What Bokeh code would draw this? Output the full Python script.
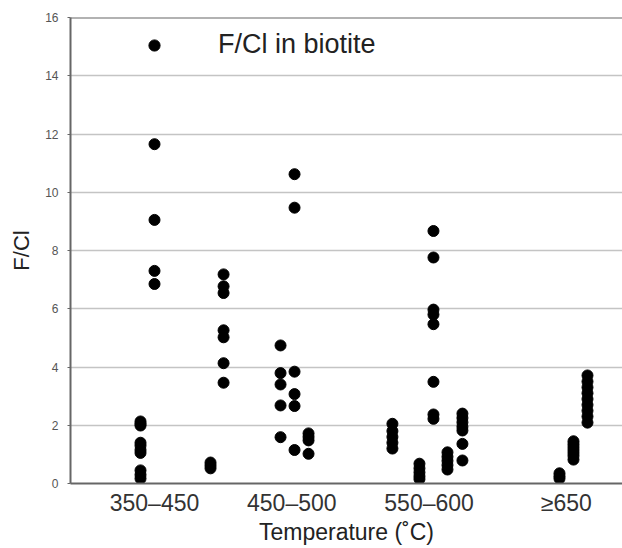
from bokeh.plotting import figure
from bokeh.models import (Range1d, FixedTicker, Span, Legend, LegendItem,
                          ColumnDataSource)
from bokeh.embed import file_html
from bokeh.resources import INLINE

# ---- data ----
categories = ["350–450", "450–500", "550–600", "≥650"]
category_pos = [1, 2, 3, 4]
y_ticks = [0, 2, 4, 6, 8, 10, 12, 14, 16]

# each column of points: horizontal position (category units) and F/Cl values
x_a, v_a = 0.898, [2.13, 2.05, 1.99, 1.4, 1.3, 1.15, 1.05, 0.45, 0.3, 0.17]
x_b, v_b = 1.0, [11.65, 9.05, 7.3, 6.85]
x_c, v_c = 1.408, [0.72, 0.62, 0.52]
x_d, v_d = 1.503, [7.18, 6.77, 6.54, 5.26, 5.02, 4.13, 3.46]
x_e, v_e = 1.918, [4.74, 3.79, 3.4, 2.68, 1.59]
x_f, v_f = 2.02, [10.62, 9.47, 3.84, 3.07, 2.66, 1.15]
x_g, v_g = 2.122, [1.72, 1.6, 1.48, 1.02]
x_h, v_h = 2.733, [2.05, 1.8, 1.6, 1.4, 1.2]
x_i, v_i = 2.93, [0.68, 0.52, 0.38, 0.25, 0.15]
x_j, v_j = 3.032, [8.67, 7.76, 5.97, 5.8, 5.47, 3.49, 2.37, 2.22]
x_k, v_k = 3.134, [1.07, 0.92, 0.78, 0.63, 0.48]
x_l, v_l = 3.243, [2.4, 2.25, 2.1, 1.95, 1.82, 1.36, 0.79]
x_m, v_m = 3.95, [0.35, 0.25, 0.17]
x_n, v_n = 4.052, [1.45, 1.35, 1.25, 1.15, 1.05, 0.95, 0.82]
x_o, v_o = 4.154, [3.71, 3.5, 3.3, 3.1, 2.9, 2.7, 2.5, 2.3, 2.09]

columns = [(x_a, v_a), (x_b, v_b), (x_c, v_c), (x_d, v_d), (x_e, v_e),
           (x_f, v_f), (x_g, v_g), (x_h, v_h), (x_i, v_i), (x_j, v_j),
           (x_k, v_k), (x_l, v_l), (x_m, v_m), (x_n, v_n), (x_o, v_o)]
xs, ys = [], []
for cx, vals in columns:
    xs += [cx] * len(vals)
    ys += vals
src = ColumnDataSource(dict(x=xs, y=ys))

FONT = "Liberation Sans"

p = figure(width=622, height=548, output_backend="svg", toolbar_location=None,
           x_range=Range1d(0.388, 4.409), y_range=Range1d(0, 16),
           min_border_left=70, min_border_right=0, min_border_top=17,
           min_border_bottom=65)
p.outline_line_color = None
p.background_fill_color = "white"

# grid
p.xgrid.visible = False
p.ygrid.ticker = FixedTicker(ticks=y_ticks)
p.ygrid.grid_line_color = "#c4c4c4"
p.ygrid.grid_line_width = 1.5

# y axis
p.yaxis.ticker = FixedTicker(ticks=y_ticks)
p.yaxis.axis_label = "F/Cl"
p.yaxis.axis_label_text_font = FONT
p.yaxis.axis_label_text_font_size = "22px"
p.yaxis.axis_label_text_font_style = "normal"
p.yaxis.axis_label_text_color = "#222222"
p.yaxis.axis_label_standoff = 8
p.yaxis.major_label_text_font = FONT
p.yaxis.major_label_text_font_size = "12px"
p.yaxis.major_label_text_color = "#555555"
p.yaxis.major_label_standoff = 9
p.yaxis.major_tick_out = 3
p.yaxis.major_tick_in = 0
p.yaxis.minor_tick_out = 0
p.yaxis.minor_tick_in = 0
p.yaxis.axis_line_color = "#666666"
p.yaxis.axis_line_width = 2
p.yaxis.major_tick_line_color = "#666666"

# x axis
p.xaxis.ticker = FixedTicker(ticks=category_pos)
p.xaxis.major_label_overrides = {pos: lab for pos, lab in zip(category_pos, categories)}
p.xaxis.axis_label = "Temperature (˚C)"
p.xaxis.axis_label_text_font = FONT
p.xaxis.axis_label_text_font_size = "23px"
p.xaxis.axis_label_text_font_style = "normal"
p.xaxis.axis_label_text_color = "#222222"
p.xaxis.axis_label_standoff = 0
p.xaxis.major_label_text_font = FONT
p.xaxis.major_label_text_font_size = "23px"
p.xaxis.major_label_text_color = "#333333"
p.xaxis.major_label_standoff = 6
p.xaxis.major_tick_out = 0
p.xaxis.major_tick_in = 0
p.xaxis.minor_tick_out = 0
p.xaxis.minor_tick_in = 0
p.xaxis.axis_line_color = "#666666"
p.xaxis.axis_line_width = 2

# top frame line
p.add_layout(Span(location=16, dimension="width", line_color="#666666", line_width=2))

r = p.scatter("x", "y", source=src, size=11, marker="circle",
              fill_color="black", line_color="black")

legend = Legend(items=[LegendItem(label="F/Cl in biotite", renderers=[r])],
                location=(70, 423), padding=0, margin=0, spacing=0,
                glyph_width=28, glyph_height=28, label_standoff=50,
                label_text_font=FONT, label_text_font_size="27px",
                label_text_color="#222222", background_fill_alpha=0,
                border_line_color=None)
p.add_layout(legend)

open("out.html", "w").write(file_html(p, INLINE))
